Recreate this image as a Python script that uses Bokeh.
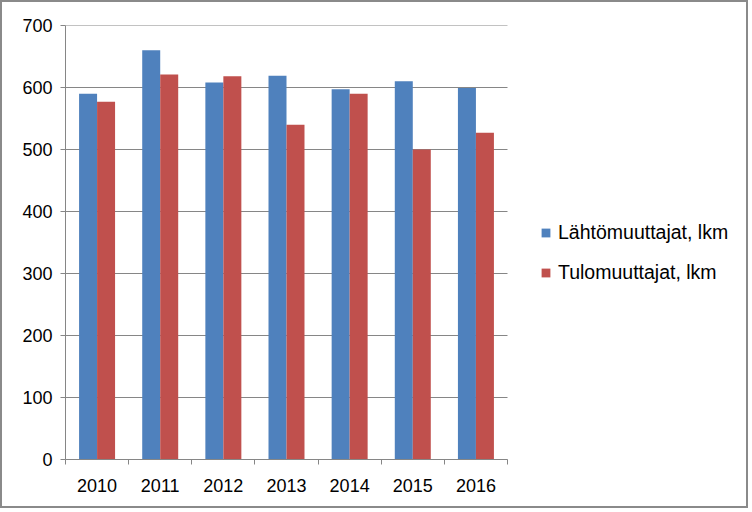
from bokeh.plotting import figure
from bokeh.models import Range1d, FixedTicker, Legend, LegendItem
from bokeh.embed import file_html
from bokeh.resources import INLINE

years = ["2010", "2011", "2012", "2013", "2014", "2015", "2016"]
lahto = [590, 660, 608, 619, 597, 610, 599]
tulo = [577, 621, 618, 540, 590, 500, 527]
y_ticks = [0, 100, 200, 300, 400, 500, 600, 700]

FONT = "Liberation Sans"
GRAY = "#868686"

n = len(years)
xs = list(range(n))
bw = 0.285
cat_px = (507 - 65) / n          # pixel width of one category
frame_px = 747 - 65              # frame extends to the right edge (legend lives inside)
x_end = -0.5 + frame_px / cat_px

p = figure(width=748, height=508, output_backend="svg", toolbar_location=None,
           x_range=Range1d(-0.5, x_end), y_range=Range1d(0, 700),
           min_border_left=63, min_border_right=3, min_border_top=23, min_border_bottom=51)
p.styles = {"border": "2px solid #8a8a8a"}
p.outline_line_color = None
p.background_fill_color = "white"
p.border_fill_color = "white"

# horizontal gridlines only across the category area
p.segment(x0=[-0.5] * len(y_ticks), x1=[n - 0.5] * len(y_ticks), y0=y_ticks, y1=y_ticks,
          line_color=GRAY, line_width=1)

r1 = p.vbar(x=[x - bw / 2 for x in xs], top=lahto, width=bw, color="#4F81BD", line_color=None)
r2 = p.vbar(x=[x + bw / 2 for x in xs], top=tulo, width=bw, color="#C0504D", line_color=None)

# x axis
xa = p.xaxis[0]
xa.bounds = (-0.5, n - 0.5)
xa.ticker = FixedTicker(ticks=xs, minor_ticks=[x - 0.5 for x in range(n + 1)])
xa.major_label_overrides = {i: y for i, y in enumerate(years)}
xa.major_tick_line_color = None
xa.major_tick_out = 0
xa.major_tick_in = 0
xa.minor_tick_out = 5
xa.minor_tick_in = 0
xa.minor_tick_line_color = GRAY
xa.axis_line_color = GRAY
xa.major_label_standoff = 14
xa.major_label_text_font = FONT
xa.major_label_text_font_size = "18px"
xa.major_label_text_color = "black"

ya = p.yaxis[0]
ya.ticker = FixedTicker(ticks=y_ticks)
ya.major_tick_out = 5
ya.major_tick_in = 0
ya.minor_tick_line_color = None
ya.major_tick_line_color = GRAY
ya.axis_line_color = GRAY
ya.major_label_standoff = 8
ya.major_label_text_font = FONT
ya.major_label_text_font_size = "18px"
ya.major_label_text_color = "black"

p.xgrid.grid_line_color = None
p.ygrid.grid_line_color = None

legend = Legend(items=[LegendItem(label="Lähtömuuttajat, lkm", renderers=[r1]),
                       LegendItem(label="Tulomuuttajat, lkm", renderers=[r2])],
                location=(475, 175))
legend.label_text_font = FONT
legend.label_text_font_size = "19.5px"
legend.label_text_color = "black"
legend.glyph_width = 11
legend.glyph_height = 11
legend.label_standoff = 7
legend.label_height = 20
legend.spacing = 17
legend.padding = 0
legend.margin = 0
legend.border_line_color = None
legend.background_fill_alpha = 0
p.add_layout(legend, "center")

open("out.html", "w").write(file_html(p, INLINE))
